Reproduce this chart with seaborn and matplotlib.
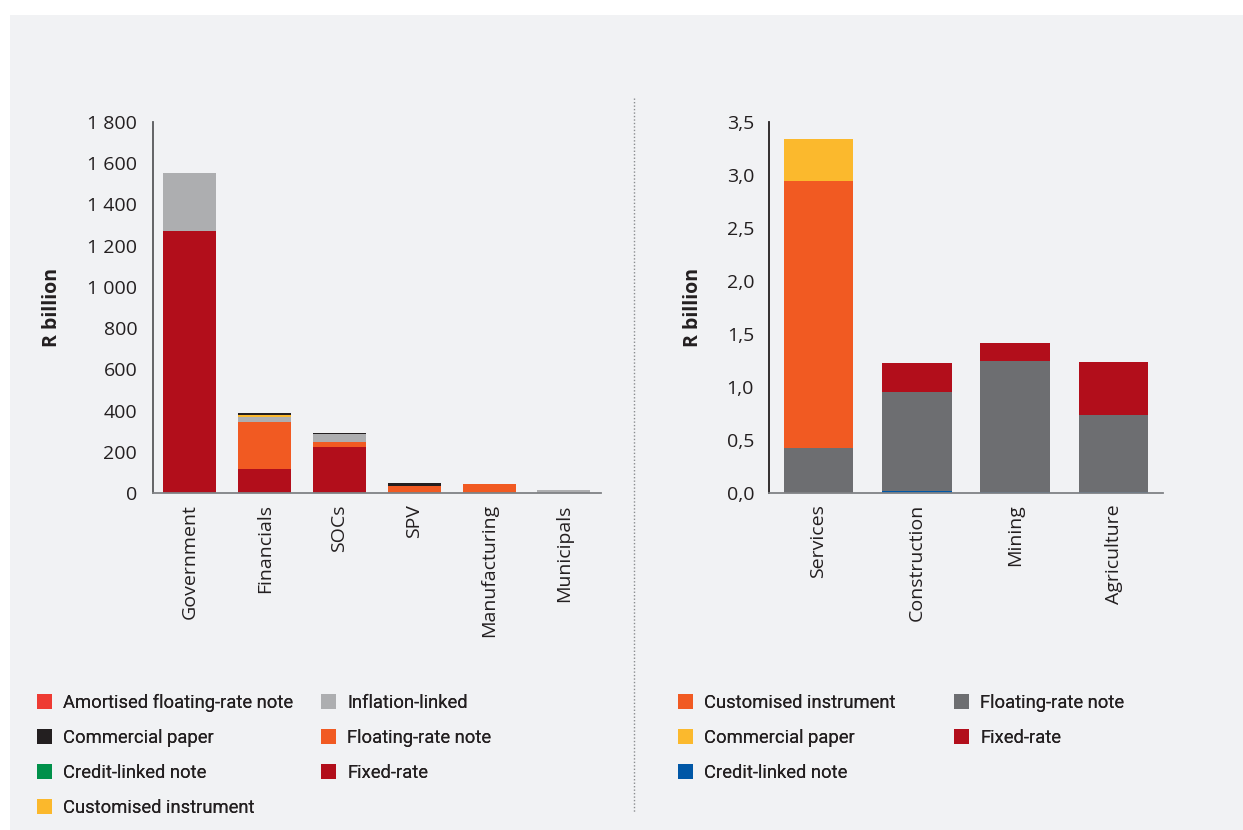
import numpy as np
import pandas as pd
import matplotlib
matplotlib.use("Agg")
import matplotlib.pyplot as plt
from matplotlib.patches import Rectangle, Patch
from matplotlib.lines import Line2D
from matplotlib.ticker import FuncFormatter, FixedLocator, NullFormatter
import seaborn as sns

sns.set_theme(style="white")
plt.rcParams["font.family"] = ["Open Sans", "DejaVu Sans"]

# ---- Issuers (R billion) ----
issuers = ["Government", "Financials", "SOCs", "SPV", "Manufacturing", "Municipals"]
iss_fixed = [1270, 118, 224, 0, 2, 0]
iss_amortised = [0, 0, 0, 2, 0, 0]
iss_floating = [0, 228, 25, 32, 42, 0]
iss_inflation = [282, 24, 39, 0, 0, 15]
iss_customised = [0, 9, 0, 0, 0, 0]
iss_credit = [0, 0, 0, 0, 0, 0]
iss_commercial = [0, 10, 5, 15, 0, 0]

# ---- Sectors (R billion) ----
sectors = ["Services", "Construction", "Mining", "Agriculture"]
sec_credit = [0.0, 0.02, 0.01, 0.01]
sec_floating = [0.42, 0.935, 1.238, 0.73]
sec_fixed = [0.0, 0.274, 0.17, 0.499]
sec_customised = [2.52, 0.0, 0.0, 0.0]
sec_commercial = [0.40, 0.0, 0.0, 0.0]

BG = "#f1f2f4"
TXT = "#231f20"
FS = 14
W, H = 1243, 830

left_series = [
    ("Fixed-rate", iss_fixed, "#b20e1b"),
    ("Amortised floating-rate note", iss_amortised, "#ee3b33"),
    ("Floating-rate note", iss_floating, "#f15a22"),
    ("Inflation-linked", iss_inflation, "#adaeb0"),
    ("Credit-linked note", iss_credit, "#00904a"),
    ("Customised instrument", iss_customised, "#fbb82c"),
    ("Commercial paper", iss_commercial, "#231f20"),
]
left_cols = [["Amortised floating-rate note", "Commercial paper", "Credit-linked note",
              "Customised instrument"],
             ["Inflation-linked", "Floating-rate note", "Fixed-rate"]]

right_series = [
    ("Credit-linked note", sec_credit, "#0057a6"),
    ("Floating-rate note", sec_floating, "#6d6e71"),
    ("Fixed-rate", sec_fixed, "#b20e1b"),
    ("Customised instrument", sec_customised, "#f15a22"),
    ("Commercial paper", sec_commercial, "#fbb92d"),
]
right_cols = [["Customised instrument", "Commercial paper", "Credit-linked note"],
              ["Floating-rate note", "Fixed-rate"]]

fig = plt.figure(figsize=(W / 100, H / 100), dpi=100, facecolor="white")
fig.patches.append(Rectangle((10 / W, 0), 1 - 10 / W, 1 - 15 / H,
                             transform=fig.transFigure, facecolor=BG,
                             edgecolor="none", zorder=-10))

ax1 = fig.add_axes([0.1227, 0.406, 0.361, 0.447])
ax2 = fig.add_axes([0.6189, 0.406, 0.3165, 0.447])


def stacked(ax, cats, series):
    bottom = np.zeros(len(cats))
    for name, vals, col in series:
        df = pd.DataFrame({"cat": cats, "val": vals})
        sns.barplot(data=df, x="cat", y="val", order=cats, color=col,
                    width=0.71, bottom=bottom, ax=ax, saturation=1,
                    linewidth=0, edgecolor="none", errorbar=None)
        bottom = bottom + np.asarray(vals, dtype=float)


stacked(ax1, issuers, left_series)
stacked(ax2, sectors, right_series)


def style(ax, n, ymax, spine_col, ylen, ylabpad):
    ax.set_facecolor("none")
    ax.set_xlim(-0.5, n - 0.5)
    ax.set_ylim(0, ymax)
    for s in ["top", "right"]:
        ax.spines[s].set_visible(False)
    ax.spines["left"].set_color(spine_col)
    ax.spines["bottom"].set_color("#808285")
    ax.spines["left"].set_linewidth(1.3)
    ax.spines["bottom"].set_linewidth(1.3)
    ax.set_xlabel("")
    ax.set_ylabel("R billion", fontsize=FS, fontweight="bold", color=TXT,
                  labelpad=ylabpad)
    ax.tick_params(axis="x", which="major", length=0, pad=8, labelsize=FS,
                   labelcolor=TXT, rotation=90)
    ax.xaxis.set_minor_locator(FixedLocator(np.arange(0.5, n, 1.0)))
    ax.xaxis.set_minor_formatter(NullFormatter())
    ax.tick_params(axis="x", which="minor", direction="in", length=7,
                   width=1.2, color=TXT)
    ax.tick_params(axis="y", direction="in", length=ylen, width=1.2,
                   color=spine_col, labelsize=FS, labelcolor=TXT, pad=11)
    for lab in ax.get_xticklabels():
        lab.set_verticalalignment("top")
        lab.set_horizontalalignment("center")


style(ax1, len(issuers), 1800, "#58595b", 11, 18)
ax1.set_yticks(np.arange(0, 1801, 200))
ax1.yaxis.set_major_formatter(FuncFormatter(lambda v, p: f"{int(v):,}".replace(",", " ")))

style(ax2, len(sectors), 3.5, TXT, 7, 17)
ax2.set_yticks(np.arange(0, 3.51, 0.5))
ax2.yaxis.set_major_formatter(FuncFormatter(lambda v, p: f"{v:.1f}".replace(".", ",")))


def legend_column(series, names, x_px, y_px):
    cmap = {name: col for name, _, col in series}
    handles = [Patch(facecolor=cmap[k], edgecolor="none", label=k) for k in names]
    leg = fig.legend(handles=handles, loc="upper left",
                     bbox_to_anchor=(x_px / W, 1 - y_px / H), ncol=1,
                     frameon=False, prop={"family": "Roboto", "size": 13.2},
                     handlelength=0.82, handleheight=0.87, handletextpad=0.6,
                     labelspacing=0.93, borderpad=0, borderaxespad=0,
                     labelcolor=TXT)
    fig.add_artist(leg)


legend_column(left_series, left_cols[0], 37, 694)
legend_column(left_series, left_cols[1], 321, 694)
legend_column(right_series, right_cols[0], 678, 694)
legend_column(right_series, right_cols[1], 954, 694)

fig.add_artist(Line2D([634 / W, 634 / W], [1 - 98 / H, 1 - 812 / H],
                      transform=fig.transFigure, color="#8a8c8f",
                      linestyle=(0, (1, 1.5)), linewidth=1.0))

fig.savefig("out.png", dpi=100, facecolor=fig.get_facecolor())
